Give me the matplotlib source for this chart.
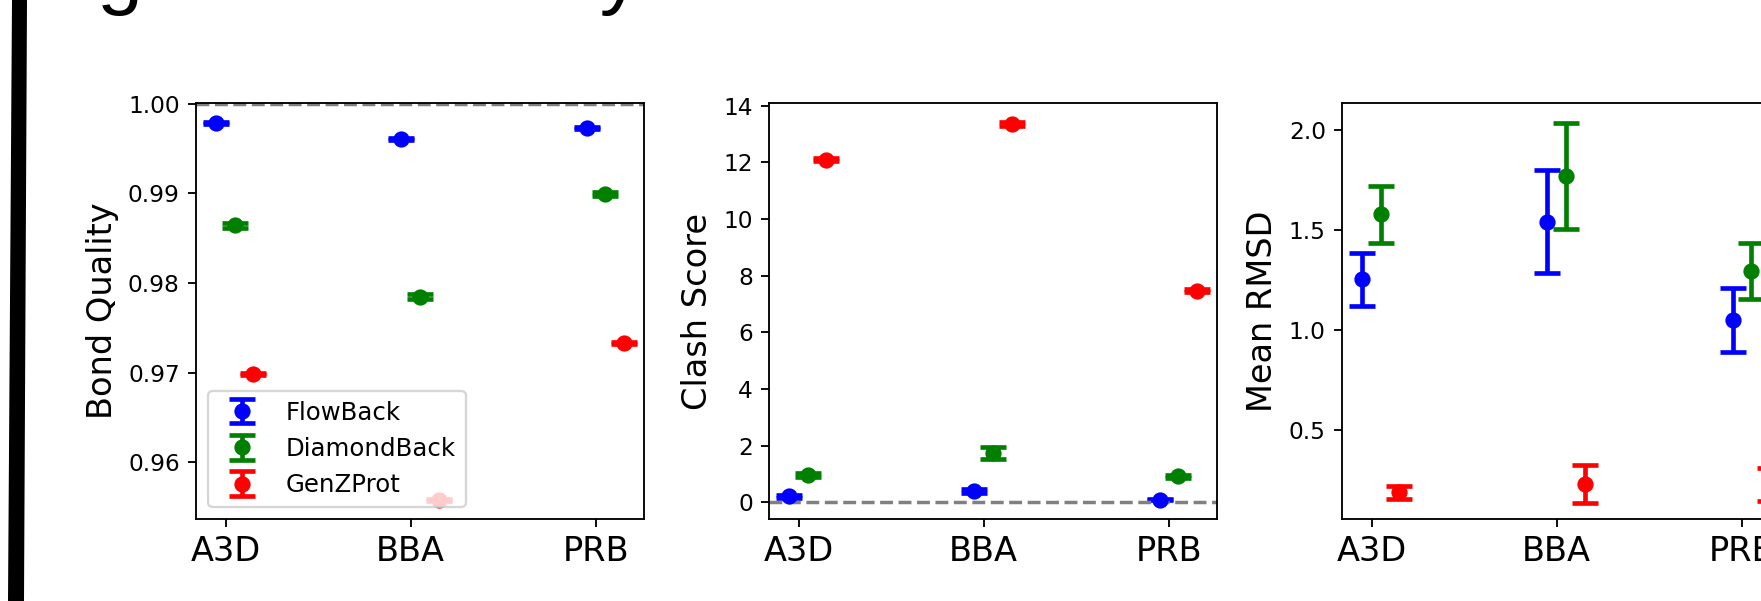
import matplotlib
matplotlib.use("Agg")
import matplotlib.pyplot as plt
from matplotlib.patches import Polygon
from matplotlib.ticker import MultipleLocator
import numpy as np

categories = ["A3D", "BBA", "PRB"]
methods = ["FlowBack", "DiamondBack", "GenZProt"]
colors = ["blue", "green", "red"]

bond_mean = {"FlowBack": [0.99784, 0.99609, 0.99728],
             "DiamondBack": [0.98642, 0.97846, 0.98992],
             "GenZProt": [0.96979, 0.95580, 0.97332]}
bond_err = {"FlowBack": [0.0001, 0.0001, 0.0001],
            "DiamondBack": [0.0003, 0.0003, 0.0002],
            "GenZProt": [0.0001, 0.0001, 0.0001]}

clash_mean = {"FlowBack": [0.21, 0.39, 0.094],
              "DiamondBack": [0.965, 1.74, 0.92],
              "GenZProt": [12.09, 13.35, 7.47]}
clash_err = {"FlowBack": [0.06, 0.08, 0.02],
             "DiamondBack": [0.06, 0.22, 0.06],
             "GenZProt": [0.06, 0.07, 0.06]}

rmsd_mean = {"FlowBack": [1.255, 1.543, 1.052],
             "DiamondBack": [1.58, 1.773, 1.297],
             "GenZProt": [0.19, 0.232, 0.23]}
rmsd_err = {"FlowBack": [0.133, 0.258, 0.161],
            "DiamondBack": [0.142, 0.264, 0.14],
            "GenZProt": [0.032, 0.094, 0.081]}

title_text = "generalizability"

panels = [("Bond Quality", bond_mean, bond_err, 1.0, (0.95364, 1.0001), None),
          ("Clash Score", clash_mean, clash_err, 0.0, (-0.59, 14.09), None),
          ("Mean RMSD", rmsd_mean, rmsd_err, None, (0.057, 2.137), 0.5)]

W, H = 1761, 601
DPI = 167
fig = plt.figure(figsize=(W / DPI, H / DPI), dpi=DPI)

lefts = [196, 769, 1342]
ax_w, ax_top, ax_bot = 448, 103, 519
offsets = [-0.05, 0.05, 0.15]
x = np.arange(len(categories))

for i, (ylabel, means, errs, hline, ylim, step) in enumerate(panels):
    ax = fig.add_axes([lefts[i] / W, (H - ax_bot) / H, ax_w / W, (ax_bot - ax_top) / H])
    for j, m in enumerate(methods):
        ax.errorbar(x + offsets[j], means[m], yerr=errs[m], fmt="o", color=colors[j],
                    capsize=5.5, elinewidth=2, capthick=2, label=m)
    if hline is not None:
        ax.axhline(hline, color="gray", linestyle="--")
    ax.set_xlim(-0.16, 2.26)
    ax.set_ylim(*ylim)
    if step is not None:
        ax.yaxis.set_major_locator(MultipleLocator(step))
    ax.set_xticks(x)
    ax.set_xticklabels(categories, fontsize=14.5)
    ax.set_ylabel(ylabel, fontsize=14.5)
    if i == 0:
        ax.legend(loc="lower left", fontsize=10.5)

title = fig.text(96 / W, 1.0, title_text, family="Liberation Sans", fontsize=35.5,
                 ha="left", va="baseline")
bar = Polygon([(12 / W, 1.0), (27 / W, 1.0), (24 / W, 0.0), (8 / W, 0.0)],
              closed=True, transform=fig.transFigure, facecolor="black", edgecolor="none")
fig.patches.append(bar)

# keep only the descenders of the (cut-off) title inside the picture
fig.canvas.draw()
img = np.asarray(fig.canvas.buffer_rgba())[:, :, :3]
band = img[:90, 180:560].min(axis=2) < 200
rows = np.where(band.any(axis=1))[0]
if rows.size:
    title.set_y(1.0 + (rows.max() + 1) / H)

fig.savefig("out.png", dpi=DPI)
